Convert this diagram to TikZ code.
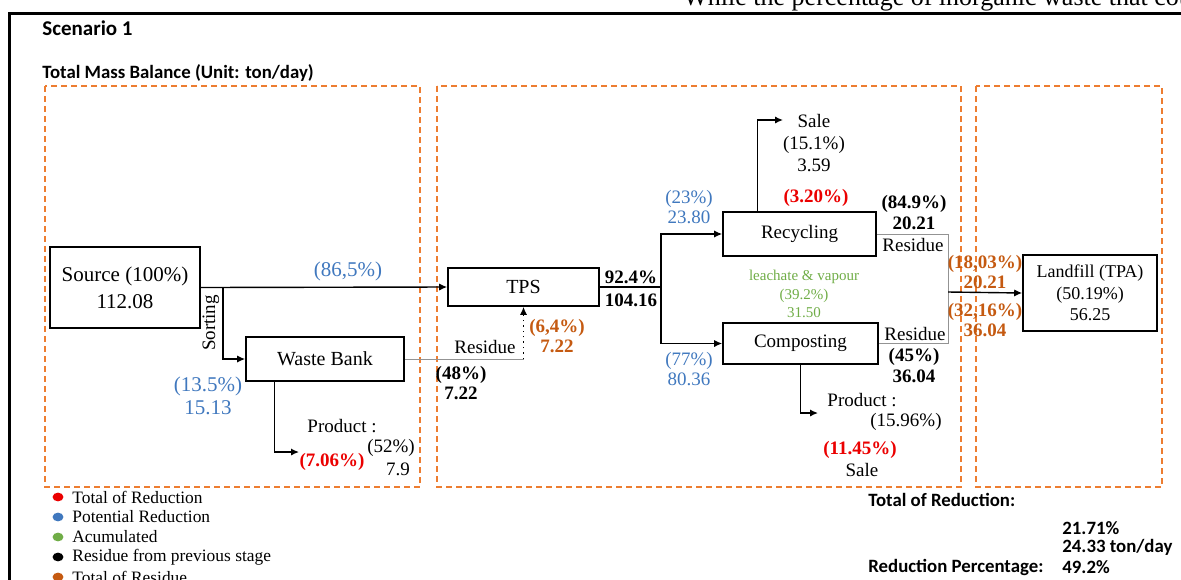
\documentclass[tikz,border=0pt]{standalone}
\usepackage{fontspec}
\setmainfont{Liberation Serif}
\setsansfont{Carlito}
\usepackage{xcolor}
\definecolor{dashorange}{RGB}{237,125,49}
\definecolor{potblue}{RGB}{64,120,190}
\definecolor{resbrown}{RGB}{197,90,17}
\definecolor{redux}{RGB}{235,0,0}
\definecolor{accgreen}{RGB}{112,173,71}
\usetikzlibrary{arrows.meta,positioning,calc}

\begin{document}
\begin{tikzpicture}[x=0.5pt,y=-0.5pt,
    stage/.style={draw=dashorange, dash pattern=on 3pt off 2pt, line width=0.7pt},
    box/.style={rectangle, draw, line width=0.8pt, inner sep=0pt,
                align=center, font=\fontsize{10}{13.5}\selectfont},
    arr/.style={-{Latex[length=4pt,width=3.6pt]}, line width=0.7pt},
    resline/.style={draw=gray!85, line width=0.5pt},
    lbl/.style={align=center, inner sep=0pt, font=\fontsize{9.5}{10.5}\selectfont},
    num/.style={align=center, inner sep=0pt, font=\fontsize{9.5}{10.5}\selectfont\bfseries},
    head/.style={anchor=west, inner sep=0pt, font=\sffamily\bfseries\fontsize{9.4}{11}\selectfont},
    legend/.style={anchor=west, inner sep=0pt, font=\fontsize{8.7}{10}\selectfont},
  ]
    \clip (0,0) rectangle (1181,579);
    % page text and frame
    \node[anchor=base west, inner sep=0pt, font=\fontsize{13}{15}\selectfont]
      (pagetext) at (683,5) {While the percentage of inorganic waste that could};
    \draw[line width=1.5pt] (9,590) -- (9,13) -- (1190,13);
    \node[head, font=\sffamily\bfseries\fontsize{10.5}{12}\selectfont] (title) at (42,28) {Scenario 1};
    \node[head] (subtitle) at (42,73) {Total Mass Balance (Unit: ton/day)};

    % stages
    \draw[stage] (45,86) rectangle (420,487);
    \draw[stage] (437,86) rectangle (961,487);
    \draw[stage] (976,86) rectangle (1162,487);

    % boxes
    \node[box, minimum width=75pt, minimum height=40.5pt, font=\fontsize{10.5}{13.5}\selectfont] (src) at (125,287.5) {Source (100\%)\\112.08};
    \node[box, minimum width=79pt, minimum height=22pt] (wb) at (325,359) {Waste Bank};
    \node[box, minimum width=75.5pt, minimum height=19pt] (tps) at (523.5,287) {TPS};
    \node[box, minimum width=76.5pt, minimum height=22pt, font=\fontsize{9.5}{11}\selectfont] (rec) at (799.5,234) {Recycling};
    \node[box, minimum width=77.5pt, minimum height=20.5pt, font=\fontsize{9.5}{11}\selectfont] (comp) at (800.5,343.5) {Composting};
    \node[box, minimum width=67pt, minimum height=38pt, font=\fontsize{9}{10.8}\selectfont] (land) at (1090,293) {Landfill (TPA)\\(50.19\%)\\56.25};

    % source and waste bank
    \coordinate (sortpt) at (223,287);
    \draw[arr] (src.east) -- (tps.west);
    \node[lbl, text=potblue, font=\fontsize{10.5}{12}\selectfont] (srcpct) at (348,271) {(86,5\%)};
    \draw[arr] (sortpt) |- (wb.west);
    \node[lbl, rotate=90] (sortlbl) at (211,323) {Sorting};
    \node[lbl, text=potblue, font=\fontsize{10.5}{11.5}\selectfont] (wbpct) at (208,396) {(13.5\%)\\15.13};
    \coordinate (wbprod) at (299,452);
    \draw[arr] ($(wb.south west)!0.185!(wb.south east)$) |- (wbprod);
    \node[lbl] (wbprodlbl) at (342,426) {Product :};
    \node[lbl] (wbprodpct) at (391,448) {(52\%)};
    \node[lbl] (wbprodval) at (398,469) {7.9};
    \node[num, text=redux] (wbred) at (332,462) {(7.06\%)};

    % residue back to TPS
    \draw[resline] (wb.east) -- (wb.east -| tps.south);
    \draw[arr, dotted] (wb.east -| tps.south) -- (tps.south);
    \node[lbl] (wbres) at (485,347) {Residue};
    \node[num, font=\fontsize{9.5}{10}\selectfont\bfseries] (wbresval) at (461,383) {(48\%)\\7.22};
    \node[num, text=resbrown, font=\fontsize{9.5}{10}\selectfont\bfseries] (tpsres) at (557,336) {(6,4\%)\\7.22};

    % TPS split
    \coordinate (split) at (661,287);
    \draw[line width=0.7pt] (tps.east) -- (split);
    \draw[arr] (split) |- (rec.west);
    \draw[arr] (split) |- (comp.west);
    \node[num, font=\fontsize{9.5}{11.5}\selectfont\bfseries] (tpsout) at (631,288.5) {92.4\%\\104.16};
    \node[lbl, text=potblue, font=\fontsize{9.5}{10}\selectfont] (recin) at (689,207) {(23\%)\\23.80};
    \node[lbl, text=potblue, font=\fontsize{9.5}{10}\selectfont] (compin) at (689,369.5) {(77\%)\\80.36};

    % recycling
    \coordinate (salept) at (783,120);
    \draw[arr] ($(rec.north west)!0.23!(rec.north east)$) |- (salept);
    \node[lbl, font=\fontsize{9.5}{11}\selectfont] (sale) at (814,143) {Sale\\(15.1\%)\\3.59};
    \node[num, text=redux] (recred) at (816,198) {(3.20\%)};
    \node[num, font=\fontsize{9.5}{10.5}\selectfont\bfseries] (recres) at (914,212.5) {(84.9\%)\\20.21};
    \node[lbl] (recreslbl) at (913,245) {Residue};

    % composting
    \node[lbl, text=accgreen, font=\fontsize{7.5}{9.25}\selectfont] (leach) at (804,294) {leachate \& vapour\\(39.2\%)\\31.50};
    \node[lbl] (compreslbl) at (915,334) {Residue};
    \node[num, font=\fontsize{9.5}{10.5}\selectfont\bfseries] (compres) at (914,365.5) {(45\%)\\36.04};
    \coordinate (cpprod) at (818,413);
    \draw[arr] (comp.south) |- (cpprod);
    \node[lbl] (cpprodlbl) at (862,400) {Product :};
    \node[lbl] (cpprodpct) at (906,422) {(15.96\%)};
    \node[num, text=redux] (cpred) at (860,450) {(11.45\%)};
    \node[lbl] (cpsale) at (862,470) {Sale};

    % to landfill
    \coordinate (merge) at (948,292);
    \draw[resline] (rec.east) -| (merge);
    \draw[resline] (comp.east) -| (merge);
    \draw[arr] (merge) -- (land.west);
    \node[num, text=resbrown, font=\fontsize{9.5}{10}\selectfont\bfseries] (landin1) at (985,272) {(18,03\%)\\20.21};
    \node[num, text=resbrown, font=\fontsize{9.5}{10}\selectfont\bfseries] (landin2) at (985,320) {(32,16\%)\\36.04};

    % legend
    \foreach \c/\t [count=\i] in {redux/Total of Reduction, potblue/Potential Reduction,
        accgreen/Acumulated, black/Residue from previous stage, resbrown/Total of Residue} {
      \fill[\c] (58,477+20*\i) ellipse (2.7pt and 2.2pt);
      \node[legend] (leg\i) at (72,477+20*\i) {\t};
    }

    % totals
    \node[head] (totred) at (868,500) {Total of Reduction:};
    \node[head] (totpct) at (1062,528) {21.71\%};
    \node[head] (totton) at (1062,547) {24.33 ton/day};
    \node[head] (redpct) at (868,567) {Reduction Percentage:};
    \node[head] (redval) at (1062,567) {49.2\%};
\end{tikzpicture}
\end{document}
